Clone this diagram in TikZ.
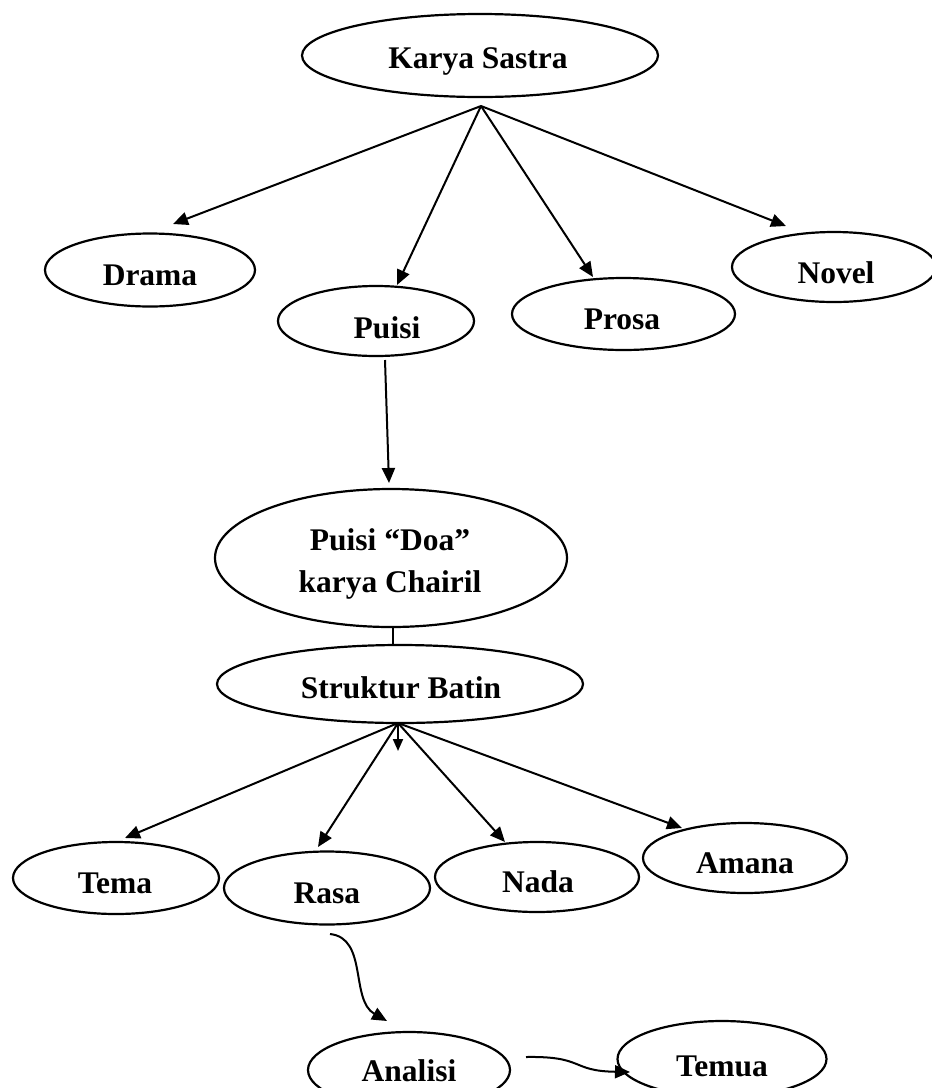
\documentclass[tikz,border=0pt]{standalone}
\usepackage{fontspec}
\setmainfont{Liberation Serif}
\usetikzlibrary{shapes.geometric,arrows.meta}
\begin{document}
\begin{tikzpicture}[x=1pt,y=-1pt,
  oval/.style={draw, ellipse, line width=2.2pt, inner sep=0pt},
  lbl/.style={font=\fontsize{31.5}{42}\selectfont\bfseries, anchor=base, inner sep=0pt},
  link/.style={line width=2pt, -{Triangle[length=15pt,width=13pt]}},
  plainlink/.style={line width=2pt}]
\useasboundingbox (0,0) rectangle (932,1088);
\fill[white] (0,0) rectangle (932,1088);

% ellipses
\node[oval, minimum width=356pt, minimum height=83pt] (karya) at (480,55.5) {};
\node[oval, minimum width=210pt, minimum height=73pt] (drama) at (150,270) {};
\node[oval, minimum width=196pt, minimum height=70pt] (puisi) at (376,321) {};
\node[oval, minimum width=223pt, minimum height=72pt] (prosa) at (623.5,314) {};
\node[oval, minimum width=204pt, minimum height=70pt] (novel) at (834,267) {};
\node[oval, minimum width=352pt, minimum height=138pt] (doa) at (391,558) {};
\node[oval, minimum width=366pt, minimum height=78pt] (sb) at (400,684) {};
\node[oval, minimum width=206pt, minimum height=72pt] (tema) at (116,878) {};
\node[oval, minimum width=206pt, minimum height=73pt] (rasa) at (327,888) {};
\node[oval, minimum width=204pt, minimum height=70pt] (nada) at (537,877) {};
\node[oval, minimum width=204pt, minimum height=70pt] (amana) at (745,858) {};
\node[oval, minimum width=202pt, minimum height=76pt] (analisi) at (409,1070) {};
\node[oval, minimum width=209pt, minimum height=76pt] (temua) at (722,1059) {};

% texts
\node[lbl] (karya-t) at (478,68) {Karya Sastra};
\node[lbl] (drama-t) at (150,285) {Drama};
\node[lbl] (puisi-t) at (387,338) {Puisi};
\node[lbl] (prosa-t) at (622,329) {Prosa};
\node[lbl] (novel-t) at (836,283) {Novel};
\node[lbl] (doa-t1) at (390,550) {Puisi “Doa”};
\node[lbl] (doa-t2) at (390,592) {karya Chairil};
\node[lbl] (sb-t) at (401,698) {Struktur Batin};
\node[lbl] (tema-t) at (115,893) {Tema};
\node[lbl] (rasa-t) at (327,903) {Rasa};
\node[lbl] (nada-t) at (538,892) {Nada};
\node[lbl] (amana-t) at (745,873) {Amana};
\node[lbl] (analisi-t) at (409,1081) {Analisi};
\node[lbl] (temua-t) at (722,1076) {Temua};

% connector points
\coordinate (root1) at (481,106);
\coordinate (drama-in) at (173,224);
\coordinate (puisi-in) at (397,285);
\coordinate (prosa-in) at (593,277);
\coordinate (novel-in) at (786,226);
\coordinate (puisi-out) at (385,360);
\coordinate (doa-in) at (389,483);
\coordinate (doa-out) at (393,627);
\coordinate (sb-in) at (393,646);
\coordinate (root2) at (398,723);
\coordinate (tema-in) at (125,838);
\coordinate (rasa-in) at (318,847);
\coordinate (nada-in) at (505,842);
\coordinate (amana-in) at (682,828);
\coordinate (stub) at (398,751);
\coordinate (rasa-out) at (330,934);
\coordinate (analisi-in) at (387,1021);
\coordinate (analisi-out) at (526,1057);
\coordinate (temua-in) at (630,1072);

% connectors
\draw[link] (root1) -- (drama-in);
\draw[link] (root1) -- (puisi-in);
\draw[link] (root1) -- (prosa-in);
\draw[link] (root1) -- (novel-in);
\draw[link] (puisi-out) -- (doa-in);
\draw[plainlink] (doa-out) -- (sb-in);
\draw[link] (root2) -- (tema-in);
\draw[link] (root2) -- (rasa-in);
\draw[link] (root2) -- (nada-in);
\draw[link] (root2) -- (amana-in);
\draw[line width=2pt, -{Triangle[length=12pt,width=10pt]}] (root2) -- (stub);
\draw[link] (rasa-out) .. controls (368,938) and (350,1000) .. (analisi-in);
\draw[link] (analisi-out) .. controls (585,1056) and (570,1071) .. (temua-in);
\end{tikzpicture}
\end{document}
